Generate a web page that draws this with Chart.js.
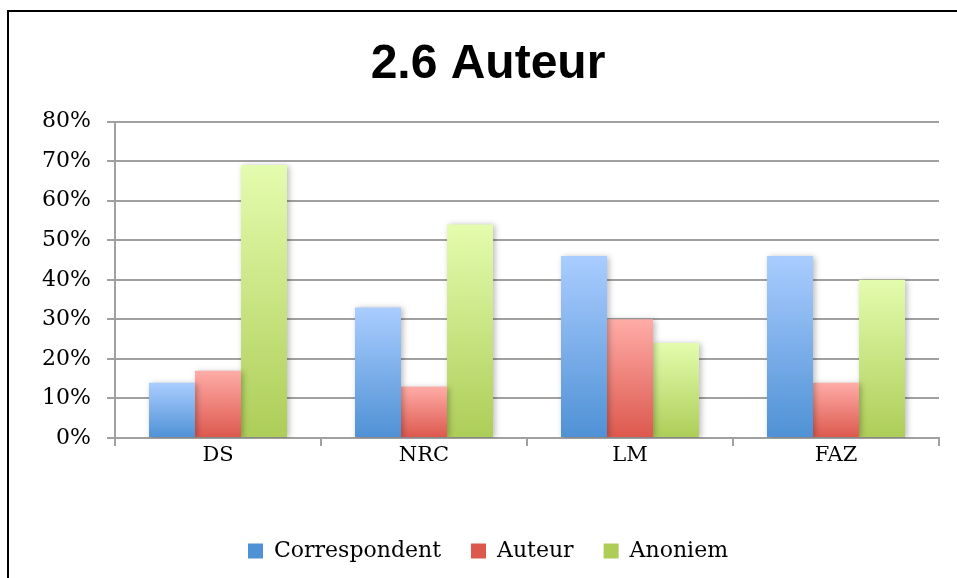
<!DOCTYPE html>
<html>
<head>
<meta charset="utf-8">
<script src="https://cdn.jsdelivr.net/npm/chart.js@4.4.1/dist/chart.umd.min.js"></script>
<style>
html,body{margin:0;padding:0;background:#fff;}
#wrap{width:957px;height:578px;position:relative;}
</style>
</head>
<body>
<div id="wrap"><canvas id="c" width="957" height="578"></canvas></div>
<script>
const titleText = '2.6 Auteur';
const categories = ['DS', 'NRC', 'LM', 'FAZ'];
const seriesNames = ['Correspondent', 'Auteur', 'Anoniem'];
const correspondent = [14, 33, 46, 46];
const auteur = [17, 13, 30, 14];
const anoniem = [69, 54, 24, 40];
const yTicks = [0, 10, 20, 30, 40, 50, 60, 70, 80];

const gradStops = [
  ['#aacdff', '#4f91d5'],
  ['#ffaca7', '#dc584d'],
  ['#e4fcae', '#adcd58']
];

function barGradient(idx) {
  return function(ctx) {
    const c = ctx.chart;
    const stops = gradStops[idx];
    if (!c.chartArea) return stops[1];
    const g0 = c.ctx;
    let top, bot;
    if (ctx.type === 'data') {
      const y = c.scales.y;
      top = y.getPixelForValue(ctx.raw);
      bot = y.getPixelForValue(0);
    } else {
      top = 541; bot = 556;
    }
    if (!isFinite(top) || !isFinite(bot) || top === bot) return stops[1];
    const g = g0.createLinearGradient(0, top, 0, bot);
    g.addColorStop(0, stops[0]);
    g.addColorStop(1, stops[1]);
    return g;
  };
}

const framePlugin = {
  id: 'frame',
  beforeDraw(chart) {
    const ctx = chart.ctx;
    ctx.save();
    ctx.fillStyle = '#fff';
    ctx.fillRect(0, 0, chart.width, chart.height);
    ctx.strokeStyle = '#000';
    ctx.lineWidth = 2;
    ctx.beginPath();
    ctx.moveTo(8, chart.height);
    ctx.lineTo(8, 11);
    ctx.lineTo(chart.width, 11);
    ctx.stroke();
    ctx.restore();
  }
};

const shadowPlugin = {
  id: 'barShadow',
  beforeDatasetsDraw(chart) {
    const ctx = chart.ctx;
    ctx.save();
    ctx.shadowColor = 'rgba(0,0,0,0.28)';
    ctx.shadowBlur = 6;
    ctx.shadowOffsetX = 2;
    ctx.shadowOffsetY = 1;
  },
  afterDatasetsDraw(chart) {
    chart.ctx.restore();
  }
};

const serif = "'DejaVu Serif', 'Liberation Serif', serif";

new Chart(document.getElementById('c'), {
  type: 'bar',
  data: {
    labels: categories,
    datasets: [
      { label: seriesNames[0], data: correspondent, backgroundColor: barGradient(0) },
      { label: seriesNames[1], data: auteur, backgroundColor: barGradient(1) },
      { label: seriesNames[2], data: anoniem, backgroundColor: barGradient(2) }
    ]
  },
  options: {
    responsive: false,
    animation: false,
    devicePixelRatio: 1,
    layout: { padding: { left: 37, right: 18, top: 0, bottom: 6 } },
    datasets: { bar: { categoryPercentage: 0.67, barPercentage: 1.0, borderWidth: 0 } },
    scales: {
      x: {
        offset: true,
        grid: { display: true, drawOnChartArea: false, drawTicks: true, tickLength: 8, color: '#a0a0a0', lineWidth: 2 },
        border: { display: true, color: '#a0a0a0', width: 2 },
        ticks: { color: '#000', font: { family: serif, size: 21 }, padding: -3 },
        afterFit(scale) { scale.height = 72; }
      },
      y: {
        min: 0, max: 80,
        afterBuildTicks(scale) { scale.ticks = yTicks.map(v => ({ value: v })); },
        grid: { color: '#a0a0a0', lineWidth: 2, tickLength: 8, drawTicks: true },
        border: { display: true, color: '#a0a0a0', width: 2 },
        ticks: { color: '#000', font: { family: serif, size: 22 }, padding: 16, callback: v => v + '%' },
        afterFit(scale) { scale.width = 78; }
      }
    },
    plugins: {
      title: {
        display: true,
        text: titleText,
        color: '#000',
        font: { family: "'Liberation Sans', Arial, sans-serif", size: 48, weight: 'bold' },
        padding: { top: 36, bottom: 28 }
      },
      legend: {
        position: 'bottom',
        labels: {
          color: '#000',
          font: { family: serif, size: 22 },
          boxWidth: 15,
          boxHeight: 15,
          padding: 30
        }
      },
      tooltip: { enabled: false }
    }
  },
  plugins: [framePlugin, shadowPlugin]
});
</script>
</body>
</html>
